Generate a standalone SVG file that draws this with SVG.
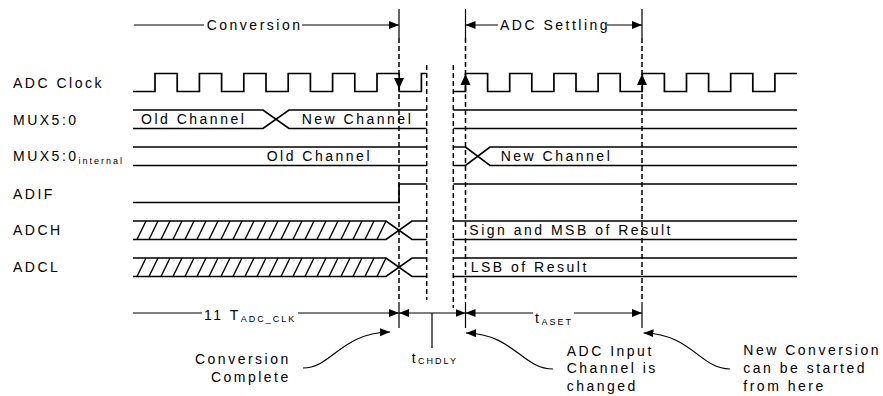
<svg xmlns="http://www.w3.org/2000/svg" width="883" height="396" viewBox="0 0 883 396">
<defs>
<style>
.t{font-family:"Liberation Sans",Arial,sans-serif;font-size:14px;letter-spacing:2.5px;fill:#000}
.s{font-size:9px;letter-spacing:2px}
.w{fill:none;stroke:#000;stroke-width:1.7}
.l{fill:none;stroke:#000;stroke-width:1.2}
.d{fill:none;stroke:#000;stroke-width:1.5;stroke-dasharray:5 3}
.h{fill:none;stroke:#000;stroke-width:1.4}
</style>
<marker id="ah" markerUnits="userSpaceOnUse" markerWidth="11" markerHeight="9" refX="10" refY="4" orient="auto">
<path d="M0,0 L10,4 L0,8 Z" fill="#000"/>
</marker>
</defs>
<rect width="883" height="396" fill="#fff"/>

<g id="labels">
<text class="t" x="13" y="88">ADC Clock</text>
<text class="t" x="13" y="124.5">MUX5:0</text>
<text class="t" x="13" y="161">MUX5:0<tspan class="s" dy="2.5">internal</tspan></text>
<text class="t" x="13" y="199">ADIF</text>
<text class="t" x="13" y="235">ADCH</text>
<text class="t" x="13" y="272">ADCL</text>
</g>

<g id="adc-clock">
<path class="w" d="M133,91.5 H155 V73.5 H177.2 V91.5 H199.4 V73.5 H221.6 V91.5 H243.8 V73.5 H266 V91.5 H288.2 V73.5 H310.4 V91.5 H332.6 V73.5 H354.8 V91.5 H377 V73.5 H399.2 V91.5 H421.4 V73.5 H426.7"/>
<path class="w" d="M453.3,91.5 H465.5 V73.5 H487.6 V91.5 H509.7 V73.5 H531.8 V91.5 H553.9 V73.5 H576 V91.5 H598.1 V73.5 H620.2 V91.5 H642.3 V73.5 H664.4 V91.5 H686.5 V73.5 H708.6 V91.5 H730.7 V73.5 H752.8 V91.5 H774.9 V73.5 H797"/>
</g>

<g id="mux">
<path class="w" d="M133,110 H263 L289,128.5 H426.7 M133,128.5 H263 L289,110 H426.7 M453.3,110 H797 M453.3,128.5 H797"/>
<text class="t" x="141" y="124">Old Channel</text>
<text class="t" x="301.7" y="124">New Channel</text>
</g>

<g id="mux-internal">
<path class="w" d="M133,147 H426.7 M133,165.5 H426.7 M453.3,147 H465.5 L490,165.5 H797 M453.3,165.5 H465.5 L490,147 H797"/>
<text class="t" x="266.7" y="161">Old Channel</text>
<text class="t" x="500.7" y="161">New Channel</text>
</g>

<g id="adif">
<path class="w" d="M133,202.5 H399 V184 H426.7 M453.3,184 H797"/>
</g>

<g id="adch">
<path class="w" d="M133,221 H386 L412,239.5 H426.7 M133,239.5 H386 L412,221 H426.7 M453.3,221 H797 M453.3,239.5 H797"/>
<path class="h" d="M137,239.5 l9,-18.5 M149,239.5 l9,-18.5 M161,239.5 l9,-18.5 M173,239.5 l9,-18.5 M185,239.5 l9,-18.5 M197,239.5 l9,-18.5 M209,239.5 l9,-18.5 M221,239.5 l9,-18.5 M233,239.5 l9,-18.5 M245,239.5 l9,-18.5 M257,239.5 l9,-18.5 M269,239.5 l9,-18.5 M281,239.5 l9,-18.5 M293,239.5 l9,-18.5 M305,239.5 l9,-18.5 M317,239.5 l9,-18.5 M329,239.5 l9,-18.5 M341,239.5 l9,-18.5 M353,239.5 l9,-18.5 M365,239.5 l9,-18.5 M377,239.5 l9,-18.5"/>
<text class="t" x="469.3" y="234.5">Sign and MSB of Result</text>
</g>

<g id="adcl">
<path class="w" d="M133,258 H386 L412,276.5 H426.7 M133,276.5 H386 L412,258 H426.7 M453.3,258 H797 M453.3,276.5 H797"/>
<path class="h" d="M137,276.5 l9,-18.5 M149,276.5 l9,-18.5 M161,276.5 l9,-18.5 M173,276.5 l9,-18.5 M185,276.5 l9,-18.5 M197,276.5 l9,-18.5 M209,276.5 l9,-18.5 M221,276.5 l9,-18.5 M233,276.5 l9,-18.5 M245,276.5 l9,-18.5 M257,276.5 l9,-18.5 M269,276.5 l9,-18.5 M281,276.5 l9,-18.5 M293,276.5 l9,-18.5 M305,276.5 l9,-18.5 M317,276.5 l9,-18.5 M329,276.5 l9,-18.5 M341,276.5 l9,-18.5 M353,276.5 l9,-18.5 M365,276.5 l9,-18.5 M377,276.5 l9,-18.5"/>
<text class="t" x="470.7" y="271.5">LSB of Result</text>
</g>

<g id="connectors">
<path class="l" d="M399,9 V38 M399,302 V328 M465.5,9 V38 M465.5,302 V328 M642,9 V38 M642,302 V328"/>
<path class="d" d="M399,38 V302 M465.5,38 V302 M642,38 V302 M426.7,65 V300 M453.3,65 V308"/>
<path d="M394,78 L404,78 L399,89 Z M460.5,85 L470.5,85 L465.5,74 Z M637,85 L647,85 L642,74 Z" fill="#000"/>
<path class="l" d="M134,25 H204 M302,25 H399" marker-end="url(#ah)"/>
<path class="l" d="M498,25 H465.5" marker-end="url(#ah)"/>
<path class="l" d="M607,25 H642" marker-end="url(#ah)"/>
<path class="l" d="M133,313 H202 M298,313 H399" marker-end="url(#ah)"/>
<path class="l" d="M432,313 H399" marker-end="url(#ah)"/>
<path class="l" d="M432,313 H465.5" marker-end="url(#ah)"/>
<path class="l" d="M432,313 V348"/>
<path class="l" d="M533,313 H465.5" marker-end="url(#ah)"/>
<path class="l" d="M574,313 H642" marker-end="url(#ah)"/>
<path class="l" d="M303,368 C332,368 340,333 390,332" marker-end="url(#ah)"/>
<path class="l" d="M553,369 C522,369 514,334 466,333" marker-end="url(#ah)"/>
<path class="l" d="M730,369 C700,369 692,334 643.5,333" marker-end="url(#ah)"/>
</g>

<g id="annotations">
<text class="t" x="206.7" y="29.5">Conversion</text>
<text class="t" x="500" y="29.5">ADC Settling</text>
<text class="t" x="204" y="320">11 T<tspan class="s" dy="2">ADC_CLK</tspan></text>
<text class="t" x="535" y="323">t<tspan class="s" dy="1.5">ASET</tspan></text>
<text class="t" x="411.7" y="362.5">t<tspan class="s" dy="1.5">CHDLY</tspan></text>
<text class="t" x="290.8" y="364" text-anchor="end">Conversion</text>
<text class="t" x="290.8" y="381.7" text-anchor="end">Complete</text>
<text class="t" x="566.7" y="356">ADC Input</text>
<text class="t" x="566.7" y="373.3">Channel is</text>
<text class="t" x="566.7" y="390.7">changed</text>
<text class="t" x="743.3" y="355">New Conversion</text>
<text class="t" x="743.3" y="373.3">can be started</text>
<text class="t" x="743.3" y="390.7">from here</text>
</g>
</svg>
